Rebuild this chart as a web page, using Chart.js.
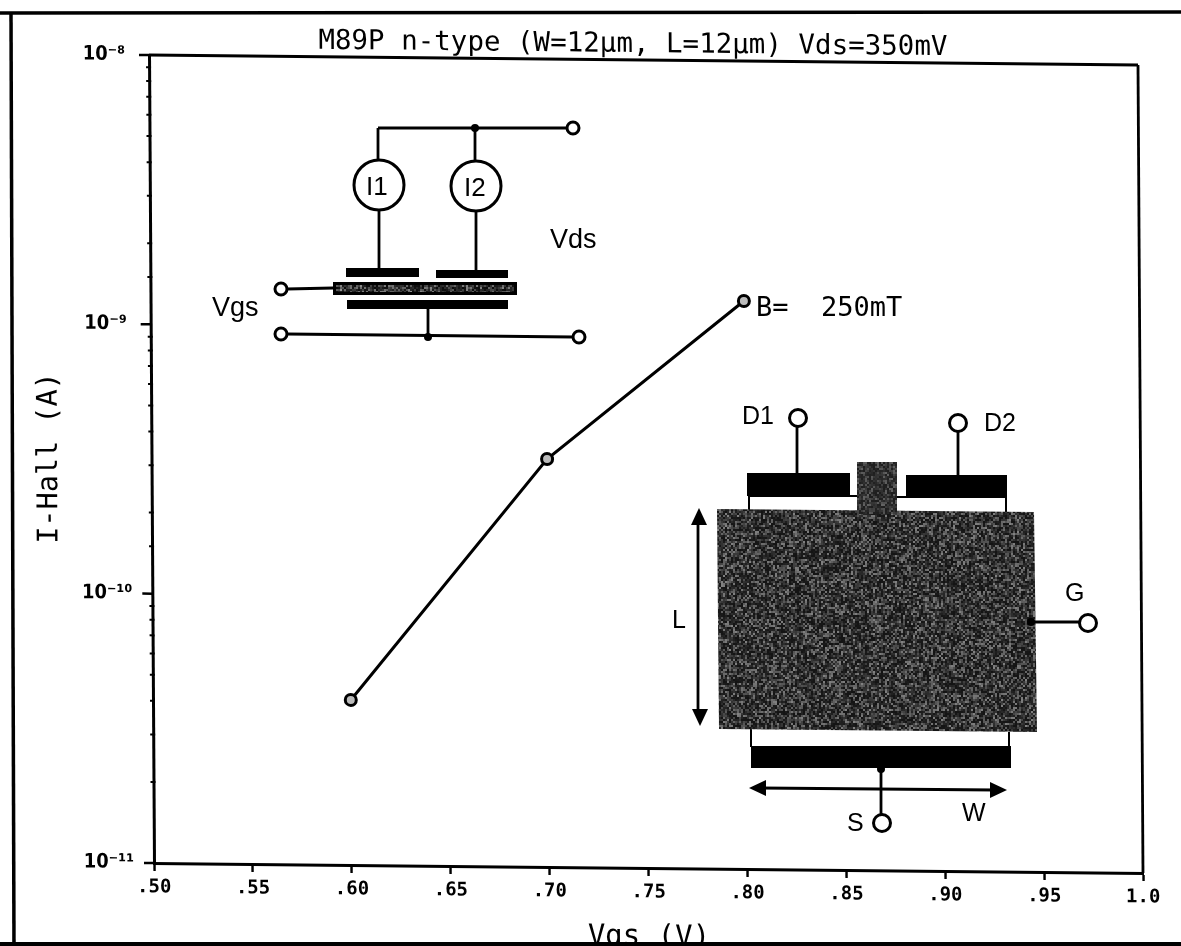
<!DOCTYPE html>
<html>
<head>
<meta charset="utf-8">
<title>I-Hall vs Vgs</title>
<script src="https://cdn.jsdelivr.net/npm/chart.js@4"></script>
<style>
  html, body { margin: 0; padding: 0; background: #fff; overflow: hidden; }
  canvas { display: block; filter: blur(0.6px); }
</style>
</head>
<body>
<canvas id="hallChart" width="1181" height="946"></canvas>
<script>
const vgs = [0.60, 0.70, 0.80];
const iHall = [4.1e-11, 3.27e-10, 1.285e-9];
const xTickLabels = ['.50', '.55', '.60', '.65', '.70', '.75', '.80', '.85', '.90', '.95', '1.0'];
const yDecades = [1e-11, 1e-10, 1e-9, 1e-8];
const yTickLabels = ['10⁻¹¹', '10⁻¹⁰', '10⁻⁹', '10⁻⁸'];

const mono = '"DejaVu Sans Mono", monospace';
const sans = '"Liberation Sans", Arial, sans-serif';
const decadeIndex = v => yDecades.findIndex(d => Math.abs(v / d - 1) < 1e-6);

// the scanned plot is slightly sheared against the page
const shearY = 0.0101, shearX = 0.0062, plotLeft = 149, plotTop = 55;

function line(ctx, x1, y1, x2, y2, w) {
  ctx.lineWidth = w || 2.8;
  ctx.beginPath();
  ctx.moveTo(x1, y1);
  ctx.lineTo(x2, y2);
  ctx.stroke();
}
function ring(ctx, x, y, r, w) {
  ctx.lineWidth = w || 3;
  ctx.fillStyle = '#fff';
  ctx.beginPath();
  ctx.arc(x, y, r, 0, Math.PI * 2);
  ctx.fill();
  ctx.stroke();
  ctx.fillStyle = '#000';
}
function dot(ctx, x, y, r) {
  ctx.beginPath();
  ctx.arc(x, y, r || 4, 0, Math.PI * 2);
  ctx.fill();
}
function bar(ctx, x1, y1, x2, y2) {
  ctx.fillRect(x1, y1, x2 - x1, y2 - y1);
}
function label(ctx, text, x, y, size) {
  ctx.font = size + 'px ' + sans;
  ctx.textAlign = 'left';
  ctx.textBaseline = 'alphabetic';
  ctx.fillText(text, x, y);
}
function arrowHead(ctx, x, y, dx, dy) {
  ctx.beginPath();
  ctx.moveTo(x, y);
  ctx.lineTo(x - dx * 17 - dy * 8, y - dy * 17 - dx * 8);
  ctx.lineTo(x - dx * 17 + dy * 8, y - dy * 17 + dx * 8);
  ctx.closePath();
  ctx.fill();
}
// grainy photocopy fill for the gate areas
function speckle(ctx, pts, base, range) {
  let seed = 12345;
  const xs = pts.map(p => p[0]), ys = pts.map(p => p[1]);
  const x0 = Math.min(...xs), x1 = Math.max(...xs), y0 = Math.min(...ys), y1 = Math.max(...ys);
  ctx.save();
  ctx.beginPath();
  pts.forEach((p, i) => i ? ctx.lineTo(p[0], p[1]) : ctx.moveTo(p[0], p[1]));
  ctx.closePath();
  ctx.clip();
  for (let x = x0; x < x1; x += 2) {
    const stripe = (x / 2) % 5 === 0 ? 22 : 0;
    for (let y = y0; y < y1; y += 2) {
      seed = (seed * 1103515 + 12345) % 2147483648;
      const n = (seed >> 8) % 1000 / 1000;
      const g = Math.round(base + stripe + range * n * n);
      ctx.fillStyle = `rgb(${g},${g},${g})`;
      ctx.fillRect(x, y, 2, 2);
    }
  }
  ctx.restore();
  ctx.fillStyle = '#000';
}

function drawCircuit(ctx) {
  line(ctx, 378, 128, 567, 128);
  line(ctx, 378, 128, 378, 160);
  line(ctx, 475, 128, 475, 161);
  dot(ctx, 475, 128);
  ring(ctx, 573, 128, 6);
  ctx.lineWidth = 3;
  ctx.beginPath();
  ctx.ellipse(379, 185, 25, 25, 0, 0, Math.PI * 2);
  ctx.stroke();
  ctx.beginPath();
  ctx.ellipse(476, 186, 25, 25, 0, 0, Math.PI * 2);
  ctx.stroke();
  label(ctx, 'I1', 366, 195, 26);
  label(ctx, 'I2', 464, 196, 26);
  line(ctx, 379, 210, 379, 268);
  line(ctx, 476, 211, 476, 270);
  bar(ctx, 346, 268, 419, 277);
  bar(ctx, 436, 270, 508, 278);
  bar(ctx, 333, 282, 517, 295);
  speckle(ctx, [[336, 285], [514, 285], [514, 292], [336, 292]], 10, 120);
  bar(ctx, 347, 300, 508, 309);
  line(ctx, 428, 309, 428, 337);
  line(ctx, 287, 334, 573, 337);
  dot(ctx, 428, 337);
  line(ctx, 287, 289, 333, 288);
  ring(ctx, 281, 289, 6);
  ring(ctx, 281, 334, 6);
  ring(ctx, 579, 337, 6);
  label(ctx, 'Vds', 550, 248, 27);
  label(ctx, 'Vgs', 212, 316, 27);
}

function drawDevice(ctx) {
  // thin outline between contacts and channel
  line(ctx, 749, 496, 749, 512, 2);
  line(ctx, 749, 496, 858, 496, 2);
  line(ctx, 1006, 497, 1006, 512, 2);
  line(ctx, 897, 497, 1006, 497, 2);
  line(ctx, 751, 729, 751, 747, 2);
  line(ctx, 1009, 732, 1009, 747, 2);

  speckle(ctx, [[717, 509], [1034, 512], [1037, 732], [719, 729]], 20, 110);
  speckle(ctx, [[857, 462], [897, 462], [897, 514], [857, 514]], 30, 70);

  bar(ctx, 747, 473, 850, 496);
  bar(ctx, 906, 475, 1007, 497);
  bar(ctx, 751, 746, 1011, 768);

  line(ctx, 797, 427, 797, 473);
  line(ctx, 958, 432, 958, 475);
  ring(ctx, 798, 418, 8.5);
  ring(ctx, 958, 423, 8.5);
  label(ctx, 'D1', 742, 424, 25);
  label(ctx, 'D2', 984, 431, 25);

  line(ctx, 1031, 622, 1080, 622);
  dot(ctx, 1031, 622);
  ring(ctx, 1088, 623, 8.5);
  label(ctx, 'G', 1065, 601, 25);

  line(ctx, 698, 520, 698, 715);
  arrowHead(ctx, 699, 508, 0, -1);
  arrowHead(ctx, 700, 726, 0, 1);
  label(ctx, 'L', 672, 628, 25);

  line(ctx, 881, 768, 881, 815);
  dot(ctx, 881, 769);
  ring(ctx, 882, 823, 8.5);
  line(ctx, 760, 788, 995, 790);
  arrowHead(ctx, 749, 788, -1, 0);
  arrowHead(ctx, 1007, 790, 1, 0);
  label(ctx, 'S', 847, 831, 25);
  label(ctx, 'W', 962, 821, 25);
}

const scanPlugin = {
  id: 'scan',
  beforeDraw(chart) {
    const ctx = chart.ctx;
    ctx.save();
    ctx.transform(1, shearY, shearX, 1, -shearX * plotTop, -shearY * plotLeft);
  },
  afterDatasetsDraw(chart) {
    const ctx = chart.ctx;
    const a = chart.chartArea;
    const y = chart.scales.y;
    ctx.save();
    ctx.strokeStyle = '#000';
    ctx.fillStyle = '#000';
    line(ctx, a.left, a.top, a.right, a.top, 2.8);
    line(ctx, a.right, a.top, a.right, a.bottom, 2.8);
    y.ticks.forEach(t => {
      const py = y.getPixelForValue(t.value);
      if (decadeIndex(t.value) >= 0) line(ctx, a.left - 10, py, a.left, py, 2.5);
      else line(ctx, a.left - 3, py, a.left + 2, py, 2);
    });
    ctx.font = '27.5px ' + mono;
    ctx.textAlign = 'center';
    ctx.textBaseline = 'alphabetic';
    ctx.fillText('M89P n-type (W=12μm, L=12μm) Vds=350mV', 633, 47);
    ctx.restore();
  },
  afterDraw(chart) {
    const ctx = chart.ctx;
    ctx.restore();
    ctx.save();
    ctx.strokeStyle = '#000';
    ctx.fillStyle = '#000';
    ctx.font = '27px ' + mono;
    ctx.textAlign = 'left';
    ctx.textBaseline = 'alphabetic';
    ctx.fillText('B=  250mT', 756, 316);
    drawCircuit(ctx);
    drawDevice(ctx);
    // page frame, open on the right like the scan
    line(ctx, 0, 13, 1181, 12, 3.5);
    line(ctx, 11, 12, 14, 946, 3.5);
    ctx.fillRect(0, 942, 1181, 4);
    ctx.restore();
  }
};

new Chart(document.getElementById('hallChart'), {
  type: 'line',
  data: {
    datasets: [{
      label: 'B= 250mT',
      data: vgs.map((v, i) => ({ x: v, y: iHall[i] })),
      borderColor: '#000',
      borderWidth: 3,
      tension: 0,
      pointRadius: 5.5,
      pointBorderWidth: 3,
      pointBorderColor: '#000',
      pointBackgroundColor: '#bbb',
      clip: false
    }]
  },
  options: {
    responsive: false,
    animation: false,
    layout: { padding: { left: 30, right: 43, top: 55, bottom: 0 } },
    plugins: { legend: { display: false }, tooltip: { enabled: false } },
    scales: {
      x: {
        type: 'linear',
        min: 0.5,
        max: 1.0,
        afterFit: s => { s.height = 83; },
        grid: { drawOnChartArea: false, tickLength: 8, tickWidth: 2.4, tickColor: '#000' },
        border: { color: '#000', width: 3 },
        ticks: {
          stepSize: 0.05,
          autoSkip: false,
          maxRotation: 0,
          padding: 5,
          color: '#000',
          font: { family: mono, size: 19, weight: 'bold' },
          callback: v => xTickLabels[Math.round((v - 0.5) / 0.05)]
        },
        title: {
          display: true,
          text: 'Vgs (V)',
          color: '#000',
          padding: { top: 0, bottom: -4 },
          font: { family: mono, size: 29 }
        }
      },
      y: {
        type: 'logarithmic',
        min: 1e-11,
        max: 1e-8,
        afterFit: s => { s.width = 119; },
        grid: { drawOnChartArea: false, drawTicks: false },
        border: { color: '#000', width: 3 },
        ticks: {
          autoSkip: false,
          crossAlign: 'center',
          padding: 20,
          color: '#000',
          font: { family: '"DejaVu Sans Condensed", "DejaVu Sans"', size: 20, weight: 'bold' },
          callback: v => {
            const i = decadeIndex(v);
            return i >= 0 ? yTickLabels[i] : '';
          }
        },
        title: {
          display: true,
          text: 'I-Hall (A)',
          color: '#000',
          padding: 0,
          font: { family: mono, size: 28.5 }
        }
      }
    }
  },
  plugins: [scanPlugin]
});
</script>
</body>
</html>
